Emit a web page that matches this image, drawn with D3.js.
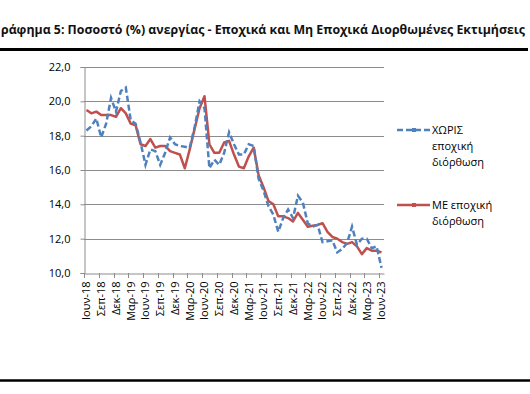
<!DOCTYPE html>
<html>
<head>
<meta charset="utf-8">
<script src="https://cdn.jsdelivr.net/npm/d3@7"></script>
<style>
  body { margin: 0; background: #fff; }
  svg { display: block; font-family: "Open Sans", "Noto Sans", sans-serif; }
</style>
</head>
<body>
<script>
// chart size
var svgWidth = 530;
var svgHeight = 394;

// months, June 2018 to June 2023
var monthNames = ["Ιαν", "Φεβ", "Μαρ", "Απρ", "Μαϊ", "Ιουν", "Ιουλ", "Αυγ", "Σεπ", "Οκτ", "Νοε", "Δεκ"];
var months = [];
for (var i = 0; i < 61; i++) {
    var m = (5 + i) % 12;
    var yr = 18 + Math.floor((5 + i) / 12);
    months.push(monthNames[m] + "-" + yr);
}

// not seasonally adjusted (dashed blue)
var nsaValues = [18.3, 18.55, 19.0, 17.9, 18.7, 20.2, 19.4, 20.6, 20.8, 18.9,
                 18.7, 17.6, 16.3, 17.2, 17.1, 16.3, 17.0, 17.9, 17.5, 17.4,
                 17.35, 17.3, 18.5, 20.0, 19.6, 16.1, 16.6, 16.3, 17.0, 18.2,
                 17.5, 16.9, 16.9, 17.5, 17.4, 15.5, 14.8, 13.9, 13.4, 12.4,
                 13.2, 13.7, 13.2, 14.5, 14.1, 12.9, 12.7, 12.8, 11.8, 11.85,
                 11.9, 11.2, 11.4, 11.75, 12.7, 11.65, 12.0, 12.0, 11.45, 11.55,
                 10.3];

// seasonally adjusted (solid red)
var saValues = [19.5, 19.3, 19.4, 19.2, 19.2, 19.2, 19.1, 19.6, 19.3, 18.7,
                18.6, 17.5, 17.4, 17.8, 17.3, 17.4, 17.4, 17.1, 17.0, 16.9,
                16.1, 17.2, 18.4, 19.6, 20.3, 17.5, 17.0, 17.0, 17.6, 17.7,
                16.9, 16.2, 16.1, 16.8, 17.3, 15.7, 15.0, 14.2, 14.0, 13.3,
                13.3, 13.2, 13.0, 13.5, 13.1, 12.7, 12.75, 12.8, 12.9, 12.4,
                12.1, 12.0, 11.8, 11.7, 11.8, 11.55, 11.1, 11.45, 11.3, 11.3,
                11.2];

var yTicks = [10, 12, 14, 16, 18, 20, 22];

var blue = "#4f81bd";
var red = "#c0504d";

var svg = d3.select("body")
    .append("svg")
    .attr("width", svgWidth)
    .attr("height", svgHeight);

// title (the original starts cut at the left margin)
svg.append("text")
    .attr("x", 1)
    .attr("y", 34)
    .attr("textLength", 524)
    .attr("lengthAdjust", "spacingAndGlyphs")
    .style("font-size", "12px")
    .style("font-weight", "bold")
    .style("fill", "#111")
    .text("ράφημα 5: Ποσοστό (%) ανεργίας - Εποχικά και Μη Εποχικά Διορθωμένες Εκτιμήσεις");

// thick rules above and below
svg.append("line")
    .attr("x1", 0).attr("x2", 528)
    .attr("y1", 49.5).attr("y2", 49.5)
    .style("stroke", "#000")
    .style("stroke-width", 3);

svg.append("line")
    .attr("x1", 0).attr("x2", 530)
    .attr("y1", 380.5).attr("y2", 380.5)
    .style("stroke", "#000")
    .style("stroke-width", 2.5);

// scales
var x = d3.scaleBand()
    .domain(months)
    .range([84, 384]);

var y = d3.scaleLinear()
    .domain([10, 22])
    .range([273, 67]);

function cx(d, i) { return x(months[i]) + x.bandwidth() / 2; }

// gridlines
svg.append("g")
    .selectAll("line")
    .data(yTicks.slice(1))
    .enter()
    .append("line")
    .attr("x1", 84).attr("x2", 384)
    .attr("y1", function(d) { return Math.round(y(d)) + 0.5; })
    .attr("y2", function(d) { return Math.round(y(d)) + 0.5; })
    .style("stroke", "#8c8c8c")
    .style("stroke-width", 1);

// y axis
var yAxis = svg.append("g")
    .attr("transform", "translate(84.5,0)")
    .call(d3.axisLeft(y)
        .tickValues(yTicks)
        .tickSize(4)
        .tickFormat(function(d) { return d3.format(".1f")(d).replace(".", ","); }));
yAxis.selectAll("path, line").style("stroke", "#8c8c8c");
yAxis.selectAll("text")
    .attr("x", -14)
    .style("font-size", "11px")
    .style("fill", "#000")
    .style("font-family", "'Open Sans', sans-serif");

// x axis with a label every three months
var xAxis = svg.append("g")
    .attr("transform", "translate(0,273.5)")
    .call(d3.axisBottom(x)
        .tickValues(months.filter(function(d, i) { return i % 3 == 0; }))
        .tickSize(0));
xAxis.select("path").style("stroke", "#8c8c8c");
xAxis.selectAll("text")
    .attr("transform", "rotate(-90)")
    .attr("x", -8)
    .attr("y", 0)
    .attr("dy", "0.35em")
    .style("text-anchor", "end")
    .style("font-size", "11px")
    .style("fill", "#000")
    .style("font-family", "'Open Sans', sans-serif");

// tick marks on category boundaries
svg.append("g")
    .selectAll("line")
    .data(months.filter(function(d, i) { return i % 3 == 0; }))
    .enter()
    .append("line")
    .attr("x1", function(d) { return Math.round(x(d)) + 0.5; })
    .attr("x2", function(d) { return Math.round(x(d)) + 0.5; })
    .attr("y1", 273)
    .attr("y2", 278)
    .style("stroke", "#8c8c8c");

// lines
var line = d3.line()
    .x(cx)
    .y(function(d) { return y(d); });

svg.append("path")
    .datum(saValues)
    .attr("d", line)
    .style("fill", "none")
    .style("stroke", red)
    .style("stroke-width", 2.5)
    .style("stroke-linejoin", "round");

svg.append("path")
    .datum(nsaValues)
    .attr("d", line)
    .style("fill", "none")
    .style("stroke", blue)
    .style("stroke-width", 2.5)
    .style("stroke-dasharray", "6,3");

// legend
var legend = [
    { color: blue, dash: "6,3", y: 130, lines: ["ΧΩΡΙΣ", "εποχική", "διόρθωση"] },
    { color: red, dash: null, y: 205, lines: ["ΜΕ εποχική", "διόρθωση"] }
];

var lg = svg.selectAll(".legend")
    .data(legend)
    .enter()
    .append("g")
    .attr("class", "legend");

lg.append("line")
    .attr("x1", 397).attr("x2", 430)
    .attr("y1", function(d) { return d.y; })
    .attr("y2", function(d) { return d.y; })
    .style("stroke", function(d) { return d.color; })
    .style("stroke-width", 2.5)
    .style("stroke-dasharray", function(d) { return d.dash; });

lg.append("rect")
    .attr("x", 412).attr("width", 4)
    .attr("y", function(d) { return d.y - 2; }).attr("height", 4)
    .style("fill", function(d) { return d.color; });

lg.each(function(d) {
    var g = d3.select(this);
    d.lines.forEach(function(t, k) {
        g.append("text")
            .attr("x", 432)
            .attr("y", d.y + k * 16)
            .attr("dy", "0.35em")
            .style("font-size", "11px")
            .style("fill", "#000")
            .text(t);
    });
});
</script>
</body>
</html>
